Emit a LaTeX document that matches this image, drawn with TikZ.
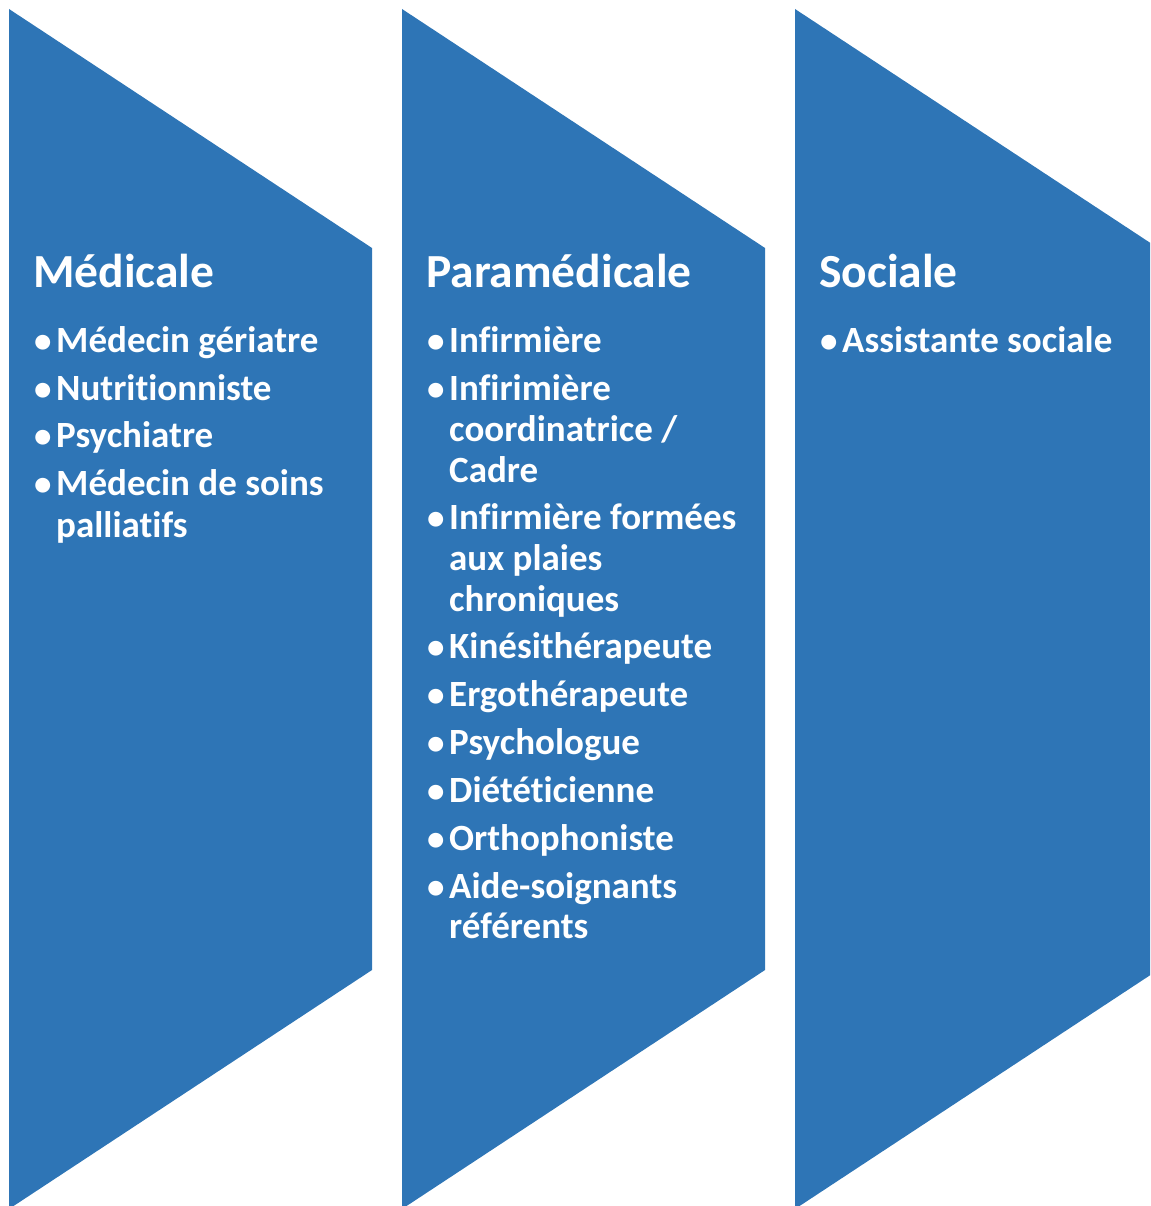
\documentclass[tikz,border=0pt]{standalone}
\usepackage{fontspec}
\setmainfont{Carlito}[Ligatures={NoCommon}]
\definecolor{chev}{HTML}{2E75B6}
\tikzset{
  chevron/.style={fill=chev, draw=none},
  ttl/.style={text=white, font=\fontsize{47.5}{56}\selectfont\bfseries, inner sep=0pt, anchor=base west},
  itm/.style={text=white, font=\fontsize{37}{44}\selectfont\bfseries, inner sep=0pt, anchor=base west},
  bul/.style={text=white, font=\fontsize{35}{42}\selectfont\bfseries, inner sep=0pt, anchor=base west},
}
\begin{document}
\begin{tikzpicture}[x=1pt,y=-1pt]
\useasboundingbox (0,0) rectangle (1150,1206);
\begin{scope}
\clip (0,0) rectangle (1150,1206);
\path[chevron] (9,9) -- (372,248) -- (372,970) -- (9,1209) -- cycle;
\path[chevron] (402,9) -- (765,248) -- (765,970) -- (402,1209) -- cycle;
\path[chevron] (795,9) -- (1158,248) -- (1158,970) -- (795,1209) -- cycle;
\end{scope}
% Column 1
\node[ttl] (t1) at (33,287) {Médicale};
\node[bul] (b11) at (34,352) {\textbullet};
\node[itm] (i11) at (56,352) {Médecin gériatre};
\node[bul] (b12) at (34,400) {\textbullet};
\node[itm] (i12) at (56,400) {Nutritionniste};
\node[bul] (b13) at (34,447) {\textbullet};
\node[itm] (i13) at (56,447) {Psychiatre};
\node[bul] (b14) at (34,495) {\textbullet};
\node[itm] (i14) at (56,495) {Médecin de soins};
\node[itm] (i14b) at (56,537) {palliatifs};
% Column 2
\node[ttl] (t2) at (426,287) {Paramédicale};
\node[bul] (b21) at (427,352) {\textbullet};
\node[itm] (i21) at (449,352) {Infirmière};
\node[bul] (b22) at (427,400) {\textbullet};
\node[itm] (i22) at (449,400) {Infirimière};
\node[itm] (i22b) at (449,441) {coordinatrice /};
\node[itm] (i22c) at (449,482) {Cadre};
\node[bul] (b23) at (427,529) {\textbullet};
\node[itm] (i23) at (449,529) {Infirmière formées};
\node[itm] (i23b) at (449,570) {aux plaies};
\node[itm] (i23c) at (449,611) {chroniques};
\node[bul] (b24) at (427,658) {\textbullet};
\node[itm] (i24) at (449,658) {Kinésithérapeute};
\node[bul] (b25) at (427,706) {\textbullet};
\node[itm] (i25) at (449,706) {Ergothérapeute};
\node[bul] (b26) at (427,754) {\textbullet};
\node[itm] (i26) at (449,754) {Psychologue};
\node[bul] (b27) at (427,802) {\textbullet};
\node[itm] (i27) at (449,802) {Diététicienne};
\node[bul] (b28) at (427,850) {\textbullet};
\node[itm] (i28) at (449,850) {Orthophoniste};
\node[bul] (b29) at (427,898) {\textbullet};
\node[itm] (i29) at (449,898) {Aide-soignants};
\node[itm] (i29b) at (449,938) {référents};
% Column 3
\node[ttl] (t3) at (819,287) {Sociale};
\node[bul] (b31) at (820,352) {\textbullet};
\node[itm] (i31) at (842,352) {Assistante sociale};
\end{tikzpicture}
\end{document}
